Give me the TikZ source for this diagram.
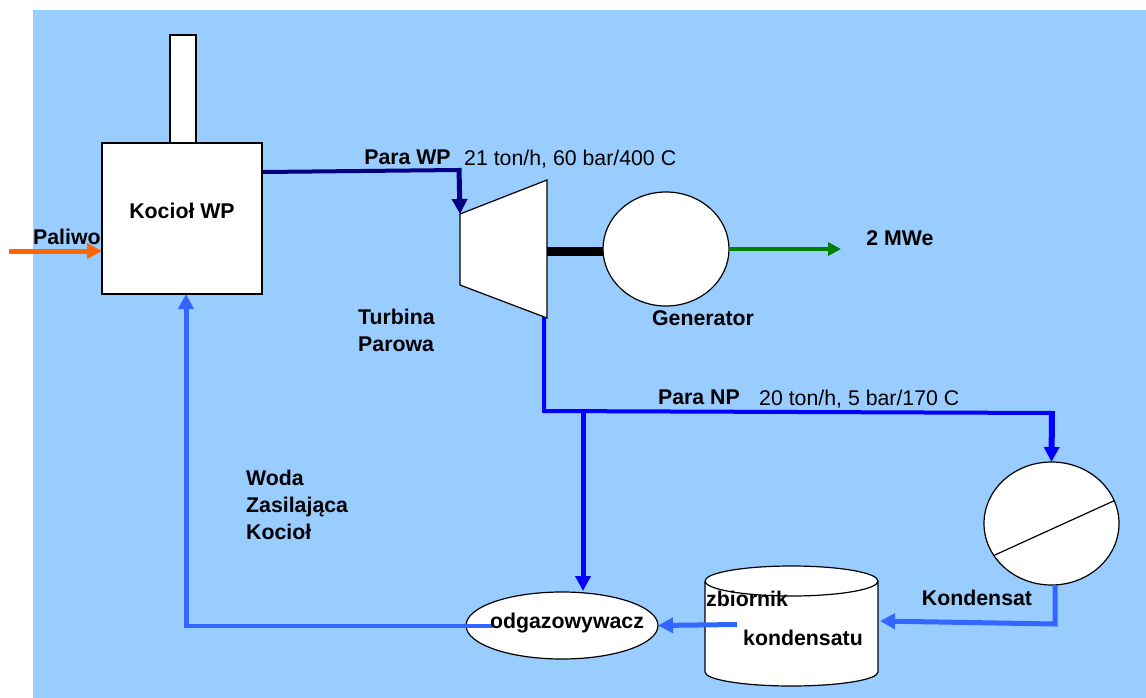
\documentclass[tikz,border=0pt]{standalone}
\usepackage{fontspec}
\setmainfont{Liberation Sans}
\usetikzlibrary{positioning, arrows.meta, calc, shapes.geometric}
\definecolor{skyfill}{HTML}{99CCFF}
\definecolor{steamhp}{HTML}{000080}
\definecolor{steamlp}{HTML}{0000FF}
\definecolor{waterline}{HTML}{3366FF}
\definecolor{fuelline}{HTML}{FF6600}
\definecolor{powerline}{HTML}{008000}
\tikzset{
  base/.style={
    draw=black,
    fill=white,
    inner sep=0pt,
    outer sep=0pt,
    line width=1.2pt,
  },
  box/.style={base, rectangle},
  oval/.style={base, ellipse},
  lbl/.style={font=\fontsize{21.3}{26}\selectfont\bfseries, inner sep=0pt},
  txt/.style={font=\fontsize{21.3}{26}\selectfont, inner sep=0pt},
  arr/.style={-{Triangle[length=15pt, width=15pt]}, line width=5pt},
  pipe/.style={line width=4pt},
}
\begin{document}
\begin{tikzpicture}[x=1pt, y=-1pt]
\useasboundingbox (0,0) rectangle (1146,698);
\fill[skyfill] (33,10) rectangle (1146,698);

% Equipment
\node[box, minimum width=26pt, minimum height=108pt] (stack) at (183,89) {};
\node[box, minimum width=160pt, minimum height=151pt] (boiler) at (182,218.5) {};
\node[oval, minimum width=126pt, minimum height=114pt] (gen) at (666,249) {};
\node[oval, minimum width=135pt, minimum height=123pt] (cond) at (1051.5,523.5) {};
\node[oval, minimum width=192pt, minimum height=67pt] (deaer) at (562,625.5) {};

% Tank
\coordinate (tanktl) at (705,581);
\coordinate (tankbl) at (705,672);
\coordinate (tanktr) at (878,581);
\draw[base] (tanktl) -- (tankbl) arc[start angle=180, end angle=360, x radius=86.5pt, y radius=14pt]
  -- (tanktr) arc[start angle=0, end angle=360, x radius=86.5pt, y radius=15pt];

% Turbine
\coordinate (ta) at (460,214);
\coordinate (tb) at (547,180);
\coordinate (tc) at (547,318);
\coordinate (td) at (460,285);
\draw[base] (ta) -- (tb) -- (tc) -- (td) -- cycle;

% Junction points
\coordinate (hp1) at (263,172);
\coordinate (hp2) at (459,170);
\coordinate (lp0) at (544,317);
\coordinate (lp1) at (544,411);
\coordinate (lp2) at (1052,413);
\coordinate (lpb) at (583,412);
\coordinate (cd0) at (1055,585);
\coordinate (cd1) at (1055,624);
\coordinate (cd2) at (880,621);
\coordinate (fw1) at (493,626);
\coordinate (fw2) at (186,626);
\coordinate (shaft) at (547,251);
\coordinate (fuel) at (9,251);
\coordinate (out) at (841,249);

% Flows
\draw[pipe, steamhp, line join=round] (hp1) -- (hp2);
\draw[arr, steamhp] ($(hp2)+(0,-2)$) -- (ta);
\draw[line width=9pt] (shaft) -- (shaft -| gen.west);
\draw[-{Triangle[length=13pt, width=13pt]}, line width=3.5pt, powerline] (gen.east) -- (out);
\draw[-{Triangle[length=15pt, width=15pt]}, line width=5pt, fuelline] (fuel) -- (boiler.west |- fuel);
\draw[pipe, steamlp] (lp0) -- (lp1) -- (lp2);
\draw[-{Triangle[length=15pt, width=15pt]}, line width=6pt, steamlp] ($(lp2)+(0,-2)$) -- (cond.north);
\draw[arr, steamlp] (lpb) -- (583,591);
\draw[arr, waterline] (cd0) -- (cd1) -- (cd2);
\draw[arr, waterline] (737,624.5) -- (deaer.east);
\draw[pipe, waterline] (fw1) -- (fw2);
\draw[arr, waterline] ($(fw2)+(0,2)$) -- (186,294);

% Chord across the condenser
\draw[line width=1.2pt] (cond.209.5) -- (cond.20);

% Labels
\node[lbl] (boilerlbl) at (182,211) {Kocioł WP};
\node[lbl, anchor=west] (fuellbl) at (33,237) {Paliwo};
\node[lbl] (hplbl) at (407.5,157) {Para WP};
\node[txt, anchor=west] (hpdata) at (464,159) {21 ton/h, 60 bar/400 C};
\node[lbl, align=left, anchor=north west] (turblbl) at (358,309) {Turbina\\[1pt]Parowa};
\node[lbl] (genlbl) at (703,318) {Generator};
\node[lbl] (powerlbl) at (900,238) {2 MWe};
\node[lbl] (lplbl) at (699,397) {Para NP};
\node[txt, anchor=west] (lpdata) at (759,399) {20 ton/h, 5 bar/170 C};
\node[lbl, align=left, anchor=north west] (waterlbl) at (246,470) {Woda\\[1pt]Zasilająca\\[1pt]Kocioł};
\node[lbl] (condlbl) at (977,598) {Kondensat};
\node[lbl, anchor=west] (tanklbl1) at (706,599) {zbiornik};
\node[lbl] (tanklbl2) at (803,638) {kondensatu};
\node[lbl] (deaerlbl) at (567,623) {odgazowywacz};

\end{tikzpicture}
\end{document}
